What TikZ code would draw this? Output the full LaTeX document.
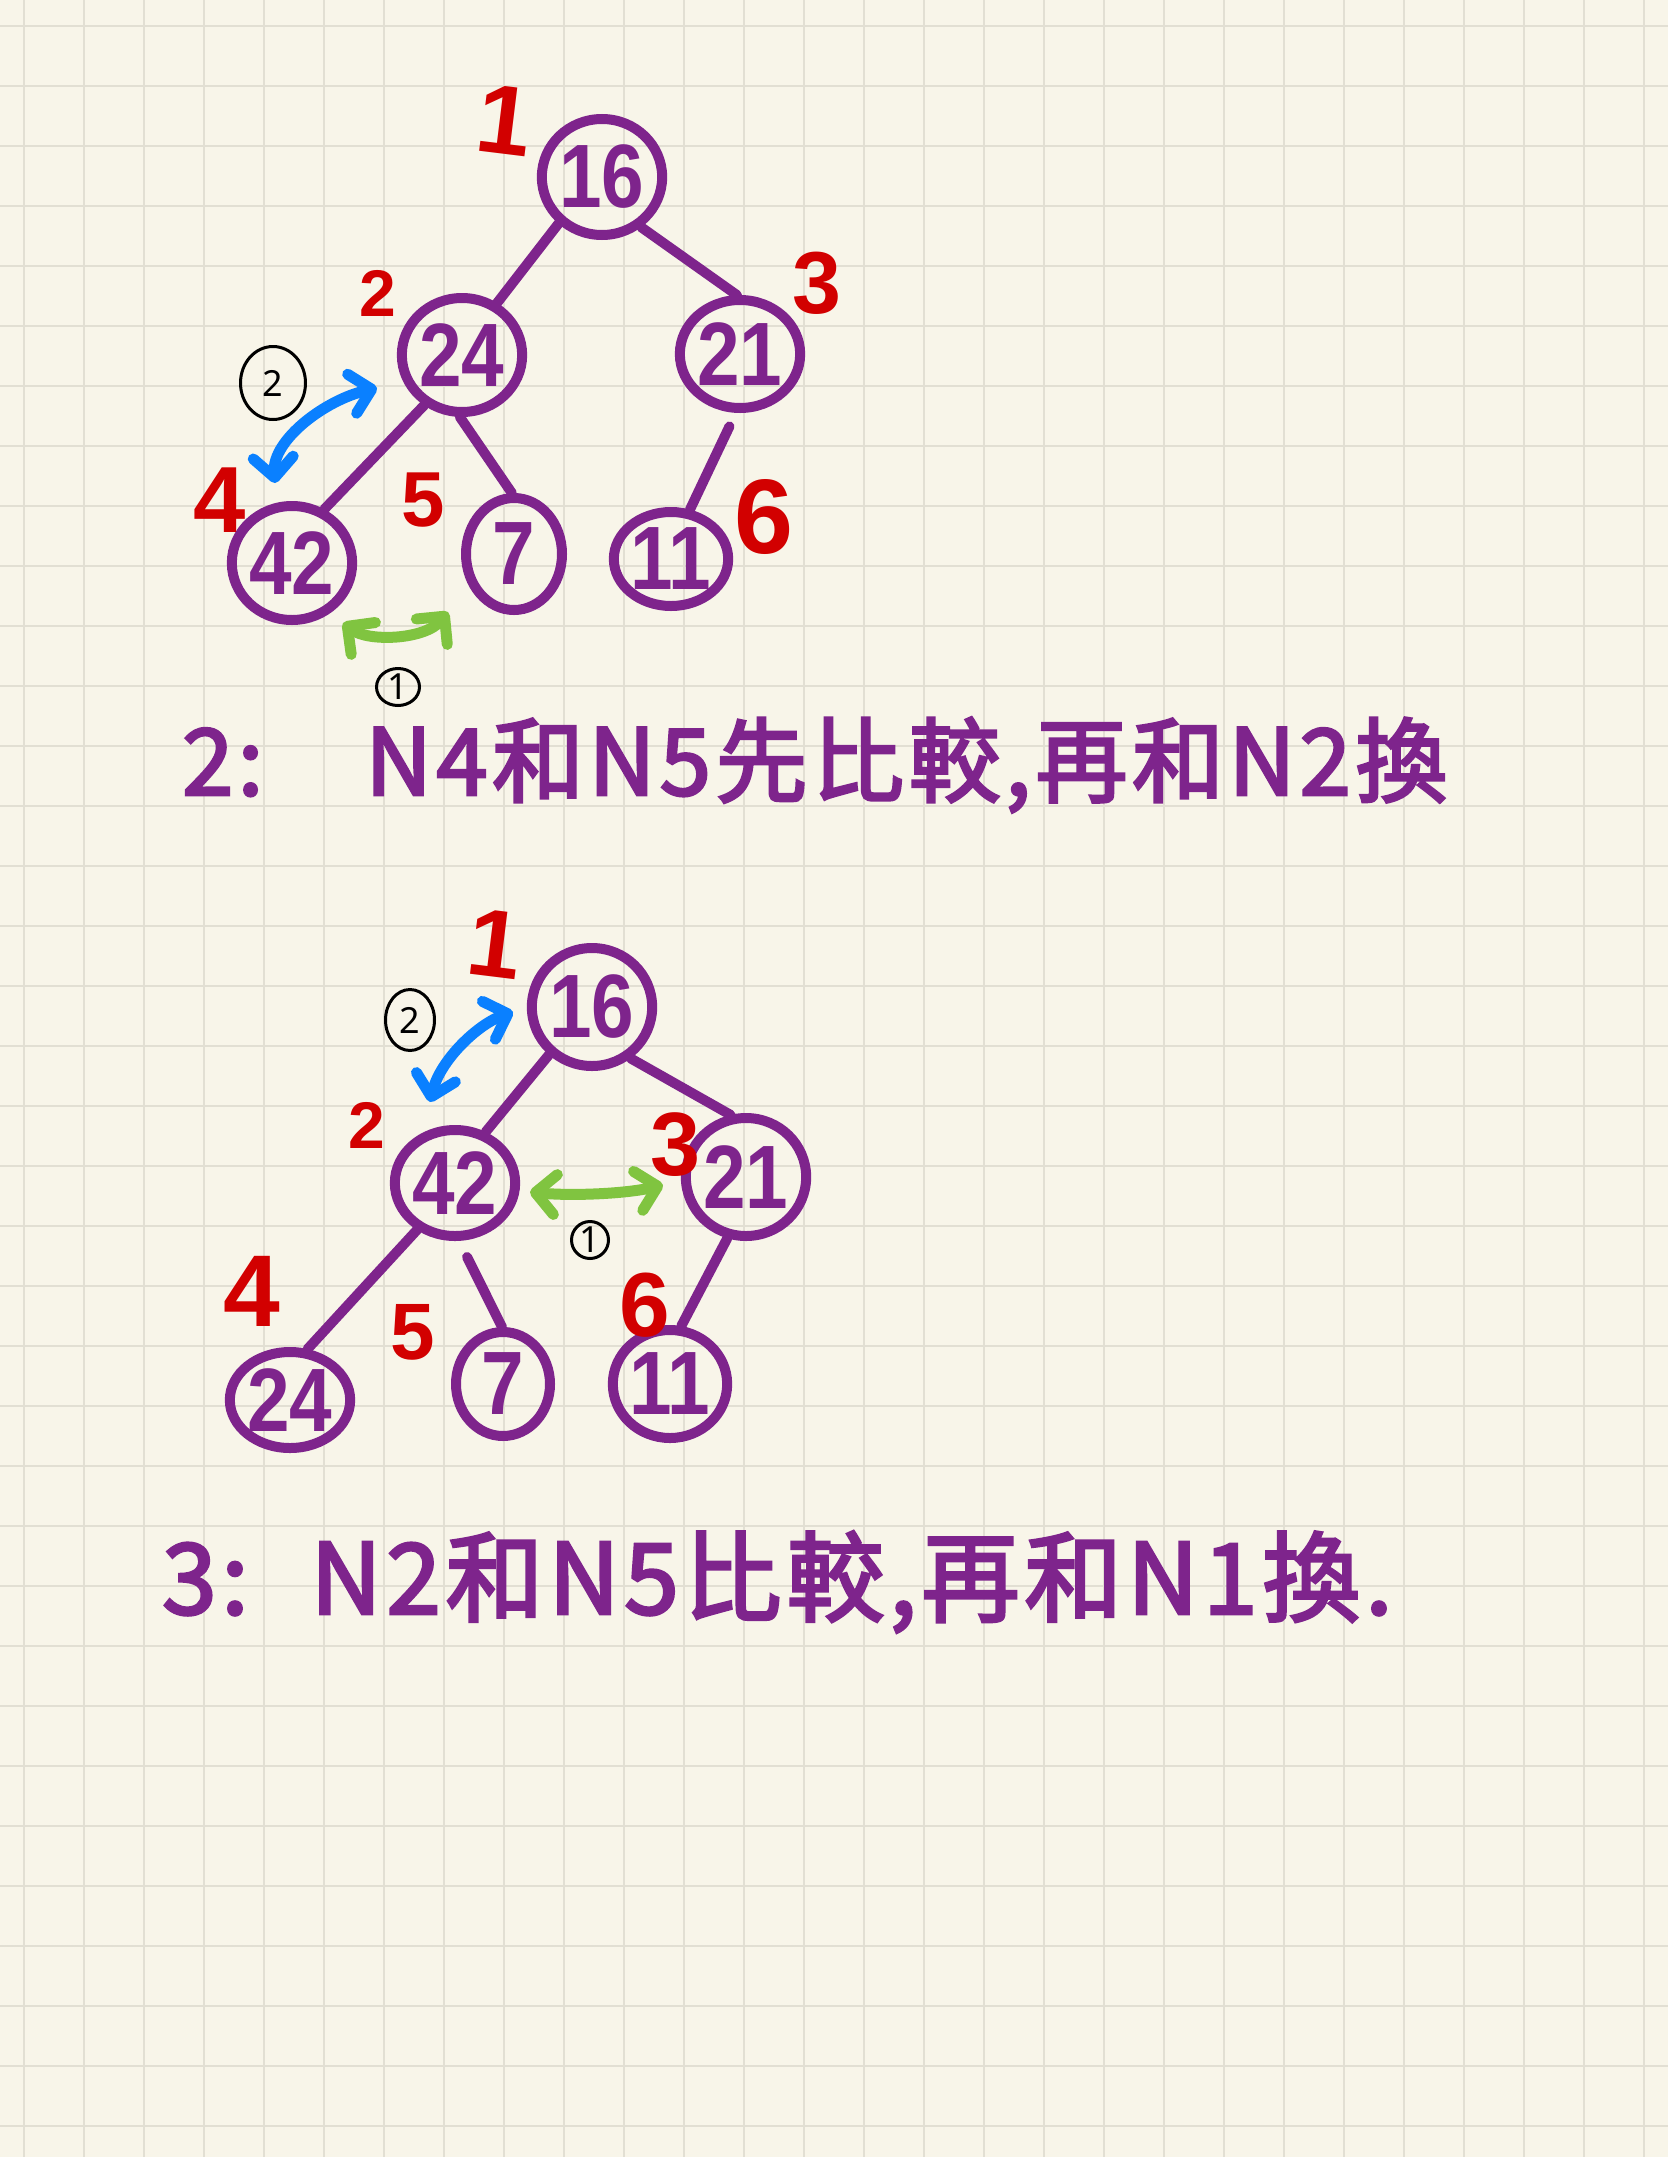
\documentclass[tikz,border=0pt]{standalone}
\usepackage{fontspec}
\setmainfont{Noto Sans}
\newfontfamily\cjkf[LetterSpace=5,FakeBold=3]{Noto Sans CJK TC}
\newfontfamily\numf[FakeStretch=0.85]{Liberation Sans}
\newfontfamily\lblf{Liberation Sans}
\usetikzlibrary{shapes.geometric,arrows.meta}
\definecolor{bg}{RGB}{248,245,233}
\definecolor{gridc}{RGB}{226,223,211}
\definecolor{purp}{RGB}{126,36,140}
\definecolor{redc}{RGB}{210,0,0}
\definecolor{bluec}{RGB}{10,128,255}
\definecolor{greenc}{RGB}{128,196,64}
\newcommand\fsz[1]{\fontsize{#1}{#1}\selectfont}
\tikzset{
  nd/.style={draw=purp, line width=10pt, ellipse, inner sep=0pt, text=purp,
    font={\numf\bfseries\fsz{90}}},
  edge/.style={draw=purp, line width=10pt, line cap=round},
  lbl/.style={text=redc, inner sep=0pt, font={\lblf\bfseries\fsz{#1}}},
  circ/.style={draw=black, line width=3pt, ellipse, inner sep=0pt, font={\fsz{36}}},
  swapb/.style={draw=bluec, line width=11pt, line cap=round,
    {Straight Barb[length=20pt,width=40pt,round]}-{Straight Barb[length=20pt,width=40pt,round]}},
  swapg/.style={draw=greenc, line width=11pt, line cap=round,
    {Straight Barb[length=20pt,width=40pt,round]}-{Straight Barb[length=20pt,width=40pt,round]}},
  captext/.style={text=purp, font={\cjkf\fsz{#1}}, inner sep=0pt, anchor=base west},
  gridl/.style={draw=gridc, line width=2.5pt}
}
\begin{document}
\begin{tikzpicture}[x=1pt,y=-1pt]
\useasboundingbox (0,0) rectangle (1668,2157);
\fill[bg] (0,0) rectangle (1668,2157);
\foreach \x in {24,84,...,1644} \draw[gridl] (\x,0) -- (\x,2157);
\foreach \y in {26,86,...,2126} \draw[gridl] (0,\y) -- (1668,\y);

% ---------- top tree ----------
\node[nd, minimum width=114pt, minimum height=116pt] (t16) at (602,177) {16};
\node[nd, minimum width=110pt, minimum height=114pt] (t24) at (462,355) {24};
\node[nd, minimum width=100pt, minimum height=108pt] (t21) at (740,354) {21};
\node[nd, minimum width=114pt, minimum height=114pt] (t42) at (292,563) {42};
\node[nd, minimum width=96pt, minimum height=112pt] (t7) at (514,554) {7};
\node[nd, minimum width=94pt, minimum height=94pt] (t11) at (671,559) {11};
\draw[edge] (t16.-133) -- (t24.56);
\draw[edge] (t16.-52) -- (t21.93);
\draw[edge] (t24.-127) -- (t42.59);
\draw[edge] (t24.-92) -- (t7.92);
\draw[edge, shorten <=15pt] (t21.-94) -- (t11.69);

\node[lbl=98, rotate=-7] (tl1) at (505,120) {1};
\node[lbl=66]  (tl2) at (378,293) {2};
\node[lbl=88]  (tl3) at (817,283) {3};
\node[lbl=94]  (tl4) at (220,500) {4};
\node[lbl=78]  (tl5) at (423,500) {5};
\node[lbl=106] (tl6) at (764,517) {6};

\node[circ, minimum width=65pt, minimum height=73pt] (tc2) at (273,383) {2};
\node[circ, minimum width=43pt, minimum height=37pt] (tc1) at (398,687) {1};

\coordinate (tb1) at (377,388);
\coordinate (tb2) at (275,483);
\draw[swapb] (tb1) .. controls (325,400) and (272,440) .. (tb2);
\coordinate (tg1) at (343,623);
\coordinate (tg2) at (448,612);
\draw[swapg] (tg1) .. controls (368,642) and (425,640) .. (tg2);

\node[captext=92] (cap1) at (182,795) {2:\hspace{102pt}N4和N5先比較,再和N2換};

% ---------- bottom tree ----------
\node[nd, minimum width=116pt, minimum height=118pt] (b16) at (592,1007) {16};
\node[nd, minimum width=104pt, minimum height=106pt] (b42) at (455,1183) {42};
\node[nd, minimum width=112pt, minimum height=118pt] (b21) at (746,1177) {21};
\node[nd, minimum width=104pt, minimum height=96pt] (b24) at (290,1400) {24};
\node[nd, minimum width=94pt, minimum height=104pt] (b7) at (503,1384) {7};
\node[nd, minimum width=106pt, minimum height=108pt] (b11) at (670,1384) {11};
\draw[edge] (b16.-132) -- (b42.59);
\draw[edge] (b16.-53) -- (b21.104);
\draw[edge] (b42.-129) -- (b24.71);
\draw[edge, shorten <=18pt] (b42.-86) -- (b7.91);
\draw[edge] (b21.-107) -- (b11.79);

\node[lbl=96, rotate=-7] (bl1) at (495,944) {1};
\node[lbl=66]  (bl2) at (367,1125) {2};
\node[lbl=90]  (bl3) at (676,1145) {3};
\node[lbl=102] (bl4) at (252,1291) {4};
\node[lbl=80]  (bl5) at (413,1332) {5};
\node[lbl=91]  (bl6) at (645,1305) {6};

\node[circ, minimum width=49pt, minimum height=61pt] (bc2) at (410,1020) {2};
\node[circ, minimum width=37pt, minimum height=37pt] (bc1) at (590,1240) {1};

\coordinate (bb1) at (513,1012);
\coordinate (bb2) at (430,1102);
\draw[swapb] (bb1) .. controls (478,1024) and (440,1060) .. (bb2);
\coordinate (bg1) at (530,1192);
\coordinate (bg2) at (663,1185);
\draw[swapg] (bg1) .. controls (570,1196) and (625,1194) .. (bg2);

\node[captext=98] (cap2) at (162,1614) {3:\hspace{62pt}N2和N5比較,再和N1換.};
\end{tikzpicture}
\end{document}
